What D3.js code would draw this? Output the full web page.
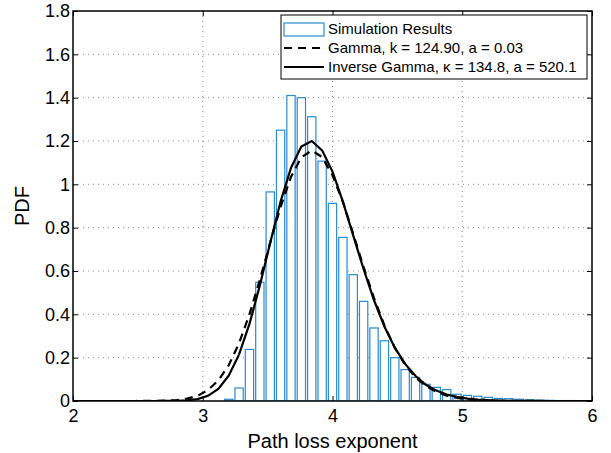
<!DOCTYPE html>
<html>
<head>
<meta charset="utf-8">
<script src="https://cdn.jsdelivr.net/npm/d3@7"></script>
<style>
  body { margin: 0; background: #fff; }
  text { font-family: "Liberation Sans", Arial, sans-serif; fill: #000; }
</style>
</head>
<body>
<div id="chart"></div>
<script>
// histogram bin centres and heights (Simulation Results)
var binCenters = [3.20, 3.28, 3.36, 3.44, 3.52, 3.60, 3.68, 3.76, 3.84, 3.92,
                  4.00, 4.08, 4.16, 4.24, 4.32, 4.40, 4.48, 4.56, 4.64, 4.72,
                  4.80, 4.88, 4.96, 5.04, 5.12, 5.20, 5.28, 5.36, 5.44, 5.52,
                  5.60, 5.68, 5.76, 5.84, 5.92];
var simPdf = [0.008, 0.06, 0.238, 0.548, 0.965, 1.25, 1.41, 1.40, 1.312, 1.107,
              0.912, 0.755, 0.583, 0.46, 0.337, 0.278, 0.20, 0.145, 0.109, 0.077,
              0.063, 0.053, 0.031, 0.026, 0.022, 0.017, 0.012, 0.011, 0.008, 0.006,
              0.004, 0.003, 0.002, 0.002, 0.001];

// fitted curves, sampled points
var curveX = [2.00, 2.08, 2.16, 2.24, 2.32, 2.40, 2.48, 2.56, 2.64, 2.72,
              2.80, 2.88, 2.96, 3.04, 3.12, 3.20, 3.28, 3.36, 3.44, 3.52,
              3.60, 3.68, 3.76, 3.84, 3.92, 4.00, 4.08, 4.16, 4.24, 4.32,
              4.40, 4.48, 4.56, 4.64, 4.72, 4.80, 4.88, 4.96, 5.04, 5.12,
              5.20, 5.28, 5.36, 5.44, 5.52, 5.60, 5.68, 5.76, 5.84, 5.92, 6.00];
var gammaPdf = [0, 0, 0, 0, 0, 0, 0.0001, 0.0002, 0.0005, 0.0016,
                0.0043, 0.011, 0.024, 0.050, 0.095, 0.165, 0.267, 0.400, 0.559, 0.731,
                0.896, 1.034, 1.125, 1.156, 1.126, 1.042, 0.919, 0.771, 0.618, 0.475,
                0.349, 0.246, 0.167, 0.109, 0.069, 0.042, 0.025, 0.014, 0.008, 0.004,
                0.002, 0.001, 0.0005, 0, 0, 0, 0, 0, 0, 0, 0];
var invGammaPdf = [0, 0, 0, 0, 0, 0, 0, 0, 0, 0.0002,
                   0.0007, 0.0027, 0.0088, 0.024, 0.056, 0.117, 0.215, 0.356, 0.533, 0.730,
                   0.921, 1.076, 1.174, 1.200, 1.157, 1.059, 0.920, 0.763, 0.608, 0.465,
                   0.344, 0.246, 0.171, 0.115, 0.075, 0.048, 0.030, 0.019, 0.011, 0.0066,
                   0.0038, 0.0022, 0.0012, 0.0007, 0.0004, 0.0002, 0.0001, 0.0001, 0, 0, 0];

var xTicks = [2, 3, 4, 5, 6];
var yTicks = [0, 0.2, 0.4, 0.6, 0.8, 1, 1.2, 1.4, 1.6, 1.8];
var legendLabels = ["Simulation Results",
                    "Gamma, k = 124.90, a = 0.03",
                    "Inverse Gamma, \u03BA = 134.8, a = 520.1"];

var W = 611, H = 453;
var margin = {left: 73, top: 11, right: 19, bottom: 52};
var width = W - margin.left - margin.right,
    height = H - margin.top - margin.bottom;
var binWidth = 0.08, barFrac = 0.8;

var svg = d3.select("#chart").append("svg")
    .attr("width", W).attr("height", H);
svg.append("rect").attr("width", W).attr("height", H).attr("fill", "#fff");

var g = svg.append("g")
    .attr("transform", "translate(" + margin.left + "," + margin.top + ")");

var x = d3.scaleLinear().domain([2, 6]).range([0, width]);
var y = d3.scaleLinear().domain([0, 1.8]).range([height, 0]);

g.append("clipPath").attr("id", "clip")
  .append("rect").attr("width", width).attr("height", height);

// grid
g.selectAll(".gx").data(xTicks.slice(1, -1)).join("line")
  .attr("x1", d => x(d)).attr("x2", d => x(d))
  .attr("y1", 0).attr("y2", height)
  .attr("stroke", "#888").attr("stroke-width", 1)
  .attr("stroke-dasharray", "1,4");
g.selectAll(".gy").data(yTicks.slice(1, -1)).join("line")
  .attr("y1", d => y(d)).attr("y2", d => y(d))
  .attr("x1", 0).attr("x2", width)
  .attr("stroke", "#888").attr("stroke-width", 1)
  .attr("stroke-dasharray", "1,4");

var plot = g.append("g").attr("clip-path", "url(#clip)");

// histogram bars
plot.selectAll(".bar").data(binCenters).join("rect")
  .attr("x", d => x(d - binWidth * barFrac / 2))
  .attr("width", x(2 + binWidth * barFrac) - x(2))
  .attr("y", (d, i) => y(simPdf[i]))
  .attr("height", (d, i) => height - y(simPdf[i]))
  .attr("fill", "#fff")
  .attr("stroke", "#2a8ad2")
  .attr("stroke-width", 1.2);

var line = d3.line()
  .x(d => x(d[0]))
  .y(d => y(d[1]));

plot.append("path")
  .datum(curveX.map((v, i) => [v, gammaPdf[i]]))
  .attr("d", line)
  .attr("fill", "none").attr("stroke", "#000")
  .attr("stroke-width", 2.2)
  .attr("stroke-dasharray", "8,6");

plot.append("path")
  .datum(curveX.map((v, i) => [v, invGammaPdf[i]]))
  .attr("d", line)
  .attr("fill", "none").attr("stroke", "#000")
  .attr("stroke-width", 2.2);

// axes with inward ticks, box style
var tickLen = 5;
g.append("g").attr("transform", "translate(0," + height + ")")
  .call(d3.axisBottom(x).tickValues(xTicks).tickSizeInner(-tickLen).tickSizeOuter(0).tickPadding(8)
        .tickFormat(d3.format("d")))
  .call(a => a.select(".domain").remove())
  .selectAll("text").style("font-size", "18px");
g.append("g")
  .call(d3.axisTop(x).tickValues(xTicks).tickSizeInner(-tickLen).tickSizeOuter(0).tickFormat(""))
  .call(a => a.select(".domain").remove());
g.append("g")
  .call(d3.axisLeft(y).tickValues(yTicks).tickSizeInner(-tickLen).tickSizeOuter(0).tickPadding(3)
        .tickFormat(d3.format("~g")))
  .call(a => a.select(".domain").remove())
  .selectAll("text").style("font-size", "18px");
g.append("g").attr("transform", "translate(" + width + ",0)")
  .call(d3.axisRight(y).tickValues(yTicks).tickSizeInner(-tickLen).tickSizeOuter(0).tickFormat(""))
  .call(a => a.select(".domain").remove());
g.selectAll(".tick line").attr("stroke", "#000");

g.append("rect")
  .attr("width", width).attr("height", height)
  .attr("fill", "none").attr("stroke", "#000").attr("stroke-width", 1.5);

// axis labels
g.append("text")
  .attr("x", width / 2).attr("y", height + 47)
  .attr("text-anchor", "middle")
  .style("font-size", "20px")
  .text("Path loss exponent");
g.append("text")
  .attr("transform", "translate(" + (-44) + "," + (height / 2) + ") rotate(-90)")
  .attr("text-anchor", "middle")
  .style("font-size", "20px")
  .text("PDF");

// legend
var lg = svg.append("g").attr("transform", "translate(281,15)");
lg.append("rect").attr("width", 306).attr("height", 64)
  .attr("fill", "#fff").attr("stroke", "#000").attr("stroke-width", 1);
var rowY = [14, 33, 52];
lg.append("rect").attr("x", 3).attr("y", rowY[0] - 6).attr("width", 40).attr("height", 13)
  .attr("fill", "#fff").attr("stroke", "#2a8ad2").attr("stroke-width", 1.2);
lg.append("line").attr("x1", 3).attr("x2", 43).attr("y1", rowY[1]).attr("y2", rowY[1])
  .attr("stroke", "#000").attr("stroke-width", 2.2).attr("stroke-dasharray", "8,6");
lg.append("line").attr("x1", 3).attr("x2", 43).attr("y1", rowY[2]).attr("y2", rowY[2])
  .attr("stroke", "#000").attr("stroke-width", 2.2);
lg.selectAll(".lt").data(legendLabels).join("text")
  .attr("x", 47).attr("y", (d, i) => rowY[i])
  .attr("dy", "0.35em")
  .style("font-size", "15px")
  .text(d => d);
</script>
</body>
</html>
